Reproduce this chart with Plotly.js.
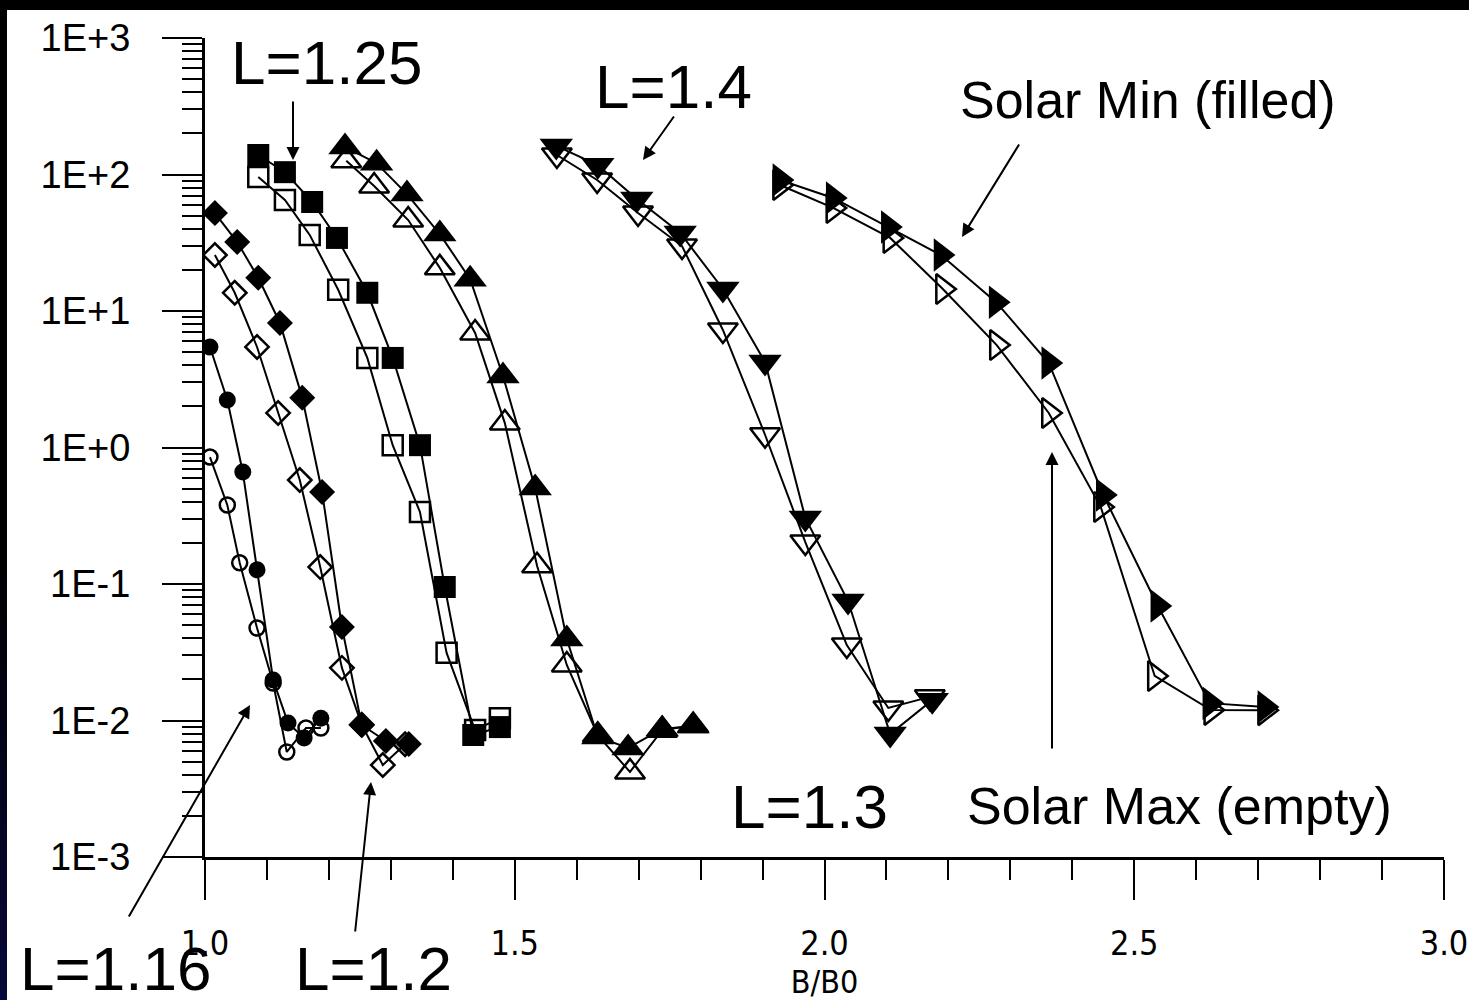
<!DOCTYPE html>
<html>
<head>
<meta charset="utf-8">
<script src="https://cdn.plot.ly/plotly-3.0.1.min.js"></script>
<style>
  html, body { margin: 0; padding: 0; background: #ffffff; }
  #chart { position: absolute; left: 0; top: 0; width: 1469px; height: 1007px; }
  #topbar { position: absolute; left: 0; top: 0; width: 1469px; height: 10px; background: #000; z-index: 5; }
  #leftbar { position: absolute; left: 0; top: 0; width: 7px; height: 1000px; z-index: 5;
             background: linear-gradient(to bottom, #000 0%, #000 55%, #08083a 100%); }
</style>
</head>
<body>
<div id="chart"></div>
<div id="topbar"></div>
<div id="leftbar"></div>
<script>
// ---------- data ----------
// Solar Min = filled markers, Solar Max = empty markers
const L116_min_x = [1.008, 1.036, 1.061, 1.084, 1.110, 1.134, 1.160, 1.187];
const L116_min_y = [5.45, 2.23, 0.662, 0.127, 0.0198, 0.0096, 0.00745, 0.0104];
const L116_max_x = [1.008, 1.036, 1.056, 1.084, 1.110, 1.132, 1.163, 1.187];
const L116_max_y = [0.851, 0.379, 0.143, 0.0476, 0.0188, 0.00588, 0.00881, 0.00881];

const L12_min_x = [1.016, 1.052, 1.086, 1.121, 1.157, 1.189, 1.221, 1.253, 1.292, 1.329];
const L12_min_y = [52.2, 32.0, 17.5, 8.17, 2.31, 0.472, 0.0484, 0.00927, 0.00708, 0.00673];
const L12_max_x = [1.016, 1.048, 1.084, 1.118, 1.153, 1.186, 1.221, 1.253, 1.287, 1.323];
const L12_max_y = [25.7, 13.6, 5.45, 1.79, 0.578, 0.133, 0.0243, 0.0093, 0.00472, 0.0067];

const L125_min_x = [1.086, 1.129, 1.173, 1.213, 1.262, 1.303, 1.347, 1.387, 1.433, 1.476];
const L125_min_y = [139, 104, 62.9, 34.3, 13.6, 4.53, 1.04, 0.0951, 0.00783, 0.00895];
const L125_max_x = [1.086, 1.129, 1.169, 1.215, 1.262, 1.303, 1.347, 1.390, 1.436, 1.476];
const L125_max_y = [95.9, 65.0, 36.1, 14.3, 4.53, 1.04, 0.337, 0.0313, 0.00851, 0.0104];

const L13_min_x = [1.226, 1.277, 1.326, 1.379, 1.428, 1.481, 1.533, 1.584, 1.634, 1.683, 1.738, 1.788];
const L13_min_y = [159, 121, 71.9, 36.6, 17.1, 3.34, 0.505, 0.0395, 0.00757, 0.00629, 0.00867, 0.00913];
const L13_max_x = [1.228, 1.273, 1.328, 1.379, 1.436, 1.484, 1.536, 1.584, 1.634, 1.686, 1.738, 1.788];
const L13_max_y = [126, 82.3, 46.4, 20.7, 6.90, 1.51, 0.136, 0.0255, 0.0078, 0.0042, 0.0085, 0.0092];

const L14_min_x = [1.567, 1.634, 1.697, 1.767, 1.836, 1.904, 1.969, 2.038, 2.106, 2.174];
const L14_min_y = [162, 117, 66.2, 37.3, 14.5, 4.23, 0.305, 0.075, 0.00796, 0.0141];
const L14_max_x = [1.568, 1.633, 1.699, 1.770, 1.836, 1.904, 1.969, 2.036, 2.103, 2.170];
const L14_max_y = [139, 91.2, 52.2, 29.9, 7.26, 1.24, 0.203, 0.0357, 0.01236, 0.0149];

const L15_min_x = [1.928, 2.014, 2.103, 2.188, 2.277, 2.362, 2.450, 2.538, 2.622, 2.711];
const L15_min_y = [91.2, 67.3, 41.2, 25.7, 11.6, 4.16, 0.449, 0.069, 0.0134, 0.01256];
const L15_max_x = [1.928, 2.014, 2.106, 2.191, 2.278, 2.362, 2.446, 2.533, 2.624, 2.711];
const L15_max_y = [83.8, 56.9, 34.3, 14.5, 5.63, 1.79, 0.366, 0.0212, 0.01194, 0.0119];

const yTickVals = [0.001, 0.01, 0.1, 1, 10, 100, 1000];
const yTickText = ['1E-3', '1E-2', '1E-1', '1E+0', '1E+1', '1E+2', '1E+3'];
const xTitle = 'B/B0';

// ---------- traces ----------
function series(x, y, symbol, size, filled) {
  return {
    type: 'scatter', mode: 'lines+markers', x: x, y: y,
    line: { color: '#000', width: 2 },
    marker: {
      symbol: filled ? symbol : symbol + '-open',
      size: size,
      color: '#000',
      line: { color: '#000', width: filled ? 0 : 2.5 }
    },
    hoverinfo: 'x+y', showlegend: false
  };
}
const traces = [
  // empty (Solar Max) first
  series(L116_max_x, L116_max_y, 'circle', 15, false),
  series(L12_max_x, L12_max_y, 'diamond', 18, false),
  series(L125_max_x, L125_max_y, 'square', 20, false),
  series(L13_max_x, L13_max_y, 'triangle-up', 26, false),
  series(L14_max_x, L14_max_y, 'triangle-down', 26, false),
  series(L15_max_x, L15_max_y, 'triangle-right', 26, false),
  // filled (Solar Min) on top
  series(L116_min_x, L116_min_y, 'circle', 17, true),
  series(L12_min_x, L12_min_y, 'diamond', 20, true),
  series(L125_min_x, L125_min_y, 'square', 22, true),
  series(L13_min_x, L13_min_y, 'triangle-up', 29, true),
  series(L14_min_x, L14_min_y, 'triangle-down', 29, true),
  series(L15_min_x, L15_min_y, 'triangle-right', 29, true)
];

// ---------- layout helpers (pixel -> paper) ----------
const M = { l: 205, r: 25, t: 38, b: 150 };
const W = 1469, H = 1007;
const PW = W - M.l - M.r, PH = H - M.t - M.b;
const px = v => (v - M.l) / PW;
const py = v => (H - M.b - v) / PH;

const bigFont = { family: 'Liberation Sans, Arial, sans-serif', size: 62, color: '#000' };
const midFont = { family: 'Liberation Sans, Arial, sans-serif', size: 52, color: '#000' };

function label(text, cx, cy, font) {
  return { xref: 'paper', yref: 'paper', x: px(cx), y: py(cy), text: text,
           showarrow: false, xanchor: 'center', yanchor: 'middle', font: font };
}
function arrow(tailX, tailY, headX, headY) {
  return { xref: 'paper', yref: 'paper', x: px(headX), y: py(headY), text: '',
           showarrow: true, ax: tailX - headX, ay: tailY - headY,
           arrowhead: 2, arrowsize: 1.3, arrowwidth: 2, arrowcolor: '#000', standoff: 0 };
}

const annotations = [
  label('L=1.25', 326, 62, bigFont),
  label('L=1.4', 673, 86, bigFont),
  label('Solar Min (filled)', 1148, 100, midFont),
  label('Solar Max (empty)', 1179, 806, midFont),
  label('L=1.3', 809, 806, bigFont),
  label('L=1.16', 115, 968, bigFont),
  label('L=1.2', 373, 968, bigFont),
  arrow(293, 100, 293, 160),
  arrow(675, 115, 643, 160),
  arrow(1020, 143, 962, 237),
  arrow(1052, 750, 1052, 452),
  arrow(128, 918, 250, 705),
  arrow(355, 933, 371, 782)
];

const minorY = [];
for (let e = -3; e < 3; e++) for (let d = 2; d <= 9; d++) minorY.push(d * Math.pow(10, e));

const tickFontX = { family: 'Liberation Sans Narrow, DejaVu Sans Condensed, Arial Narrow, sans-serif', size: 34, color: '#000' };
const tickFontY = { family: 'Liberation Sans, Arial, sans-serif', size: 38, color: '#000' };

const layout = {
  width: W, height: H,
  margin: M,
  paper_bgcolor: '#ffffff', plot_bgcolor: '#ffffff',
  showlegend: false,
  xaxis: {
    range: [1, 3], tick0: 1, dtick: 0.5, tickformat: '.1f',
    ticks: 'outside', ticklen: 40, tickwidth: 2, tickcolor: '#000',
    showline: true, linewidth: 3, linecolor: '#000',
    showgrid: false, zeroline: false,
    tickfont: tickFontX, ticklabelstandoff: 14, ticklabeloverflow: 'allow',
    minor: { dtick: 0.1, ticks: 'outside', ticklen: 20, tickwidth: 2, tickcolor: '#000', showgrid: false },
    title: { text: xTitle, font: { family: tickFontX.family, size: 32, color: '#000' }, standoff: 6 }
  },
  yaxis: {
    type: 'log', range: [-3, 3],
    tickmode: 'array', tickvals: yTickVals, ticktext: yTickText,
    ticks: 'outside', ticklen: 40, tickwidth: 2, tickcolor: '#000',
    showline: true, linewidth: 3, linecolor: '#000',
    showgrid: false, zeroline: false,
    tickfont: tickFontY, ticklabelstandoff: 24,
    minor: { tickmode: 'array', tickvals: minorY, ticks: 'outside', ticklen: 20, tickwidth: 2, tickcolor: '#000', showgrid: false }
  },
  annotations: annotations
};

Plotly.newPlot('chart', traces, layout, { staticPlot: true, displayModeBar: false });
</script>
</body>
</html>
